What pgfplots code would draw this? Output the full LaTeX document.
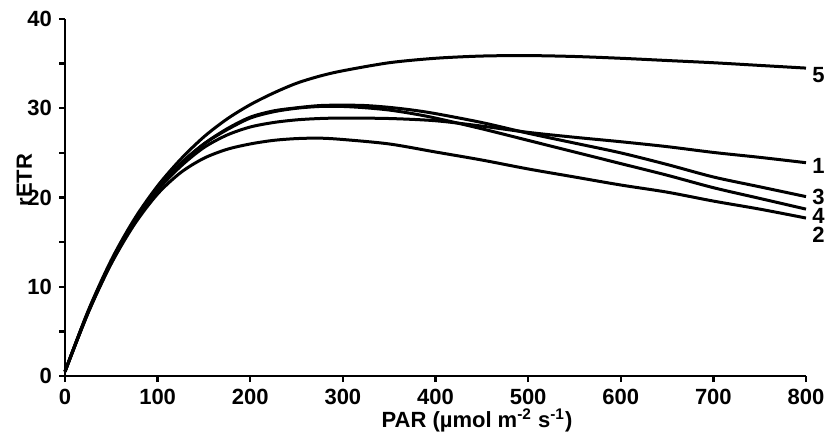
\documentclass[border=0pt]{standalone}
\usepackage{pgfplots}
\pgfplotsset{compat=1.18}
\usepackage{fontspec}
\setmainfont{Liberation Sans}

% light-response curves (rETR vs PAR), one series per treatment
\newcommand{\curveA}{% 1
(0,0.5) (25,7.1) (50,12.7) (75,17.2) (100,20.8) (125,23.5) (150,25.6) (175,27.0)
(200,27.9) (225,28.4) (250,28.7) (275,28.85) (300,28.9) (350,28.85) (400,28.6)
(450,28.0) (500,27.3) (550,26.75) (600,26.25) (650,25.7) (700,25.05) (750,24.5) (800,23.9)}
\newcommand{\curveB}{% 2
(0,0.5) (25,7.1) (50,12.6) (75,17.0) (100,20.4) (125,22.8) (150,24.4) (175,25.4)
(200,26.0) (225,26.4) (250,26.6) (275,26.65) (300,26.5) (350,26.0) (400,25.1)
(450,24.2) (500,23.2) (550,22.3) (600,21.4) (650,20.6) (700,19.6) (750,18.7) (800,17.7)}
\newcommand{\curveC}{% 3
(0,0.5) (25,7.2) (50,12.8) (75,17.3) (100,20.9) (125,23.8) (150,26.0) (175,27.7)
(200,29.0) (225,29.7) (250,30.05) (275,30.3) (300,30.35) (325,30.3) (350,30.1)
(375,29.8) (400,29.4) (450,28.4) (500,27.2) (550,26.1) (600,25.0) (650,23.7)
(700,22.3) (750,21.2) (800,20.1)}
\newcommand{\curveD}{% 4
(0,0.5) (25,7.2) (50,12.8) (75,17.3) (100,20.9) (125,23.8) (150,26.0) (175,27.6)
(200,28.9) (225,29.6) (250,30.0) (275,30.2) (300,30.2) (325,30.05) (350,29.8)
(375,29.4) (400,28.9) (450,27.7) (500,26.4) (550,25.1) (600,23.8) (650,22.5)
(700,21.1) (750,19.9) (800,18.7)}
\newcommand{\curveE}{% 5
(0,0.5) (25,7.3) (50,13.0) (75,17.6) (100,21.3) (125,24.3) (150,26.8) (175,28.8)
(200,30.4) (225,31.7) (250,32.8) (275,33.6) (300,34.2) (350,35.1) (400,35.6)
(450,35.85) (500,35.9) (550,35.8) (600,35.6) (650,35.35) (700,35.1) (750,34.8) (800,34.5)}

\begin{document}
\begin{tikzpicture}
\useasboundingbox (-32.5pt,-29pt) rectangle (380.5pt,188pt);
\begin{axis}[
  at={(0,0)}, anchor=south west,
  scale only axis,
  width=370.5pt, height=178.5pt,
  xmin=0, xmax=800, ymin=0, ymax=40,
  axis x line*=bottom, axis y line*=left,
  axis line style={line width=1.4pt},
  xtick={0,100,...,800}, ytick={0,10,...,40},
  minor ytick={5,15,25,35},
  tick align=outside,
  major tick length=3pt, minor tick length=3pt,
  every tick/.style={line width=1.2pt, black},
  font=\fontsize{11}{13}\selectfont\bfseries,
  /pgf/number format/assume math mode=true,
  ticklabel style={font=\fontsize{11}{13}\selectfont\bfseries},
  clip=false,
  curve/.style={black, line width=1.5pt, smooth, mark=none},
]
\addplot[curve] coordinates {\curveA};
\addplot[curve] coordinates {\curveB};
\addplot[curve] coordinates {\curveC};
\addplot[curve] coordinates {\curveD};
\addplot[curve] coordinates {\curveE};
% axis titles
\node[anchor=base, inner sep=0pt] at ([yshift=-25.5pt]rel axis cs:0.556,0)
  {PAR (µmol m\textsuperscript{-2} s\textsuperscript{-1})};
\node[anchor=base, rotate=90, inner sep=0pt] at ([xshift=-16.5pt]rel axis cs:0,0.549)
  {rETR};
% series numbers at the right-hand ends
\tikzset{endlabel/.style={anchor=west, inner sep=0pt, xshift=3pt,
  text height=7.5pt, text depth=0pt, yshift=-3.75pt}}
\node[endlabel] at (axis cs:800,24.4) {1};
\node[endlabel] at (axis cs:800,16.6) {2};
\node[endlabel] at (axis cs:800,20.95) {3};
\node[endlabel] at (axis cs:800,18.8) {4};
\node[endlabel] at (axis cs:800,34.6) {5};
\end{axis}
\end{tikzpicture}
\end{document}
